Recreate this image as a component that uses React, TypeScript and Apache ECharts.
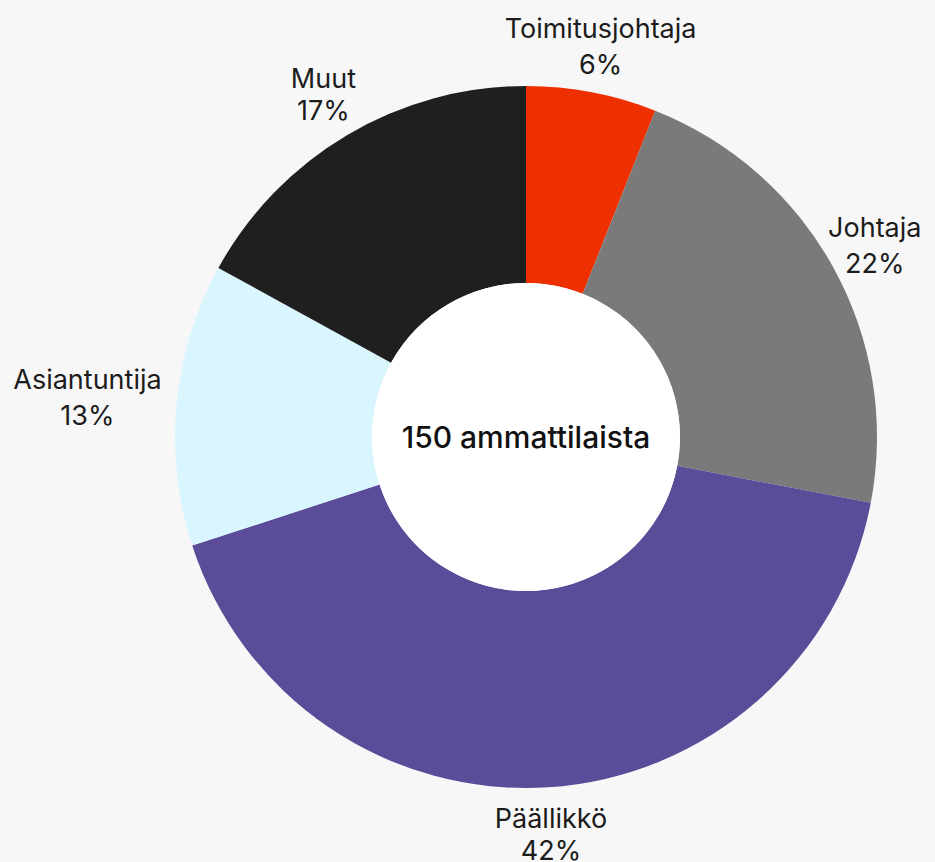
import React, { useEffect, useRef } from "react";
import * as echarts from "echarts";

const categories = ["Toimitusjohtaja", "Johtaja", "Päällikkö", "Asiantuntija", "Muut"];
const values = [6, 22, 42, 13, 17];
const colors = ["#ee3000", "#7a7a7a", "#5b4c9a", "#d9f6fe", "#1f1f1f"];
const centerText = "150 ammattilaista";

const FONT = "Inter, 'Noto Sans', sans-serif";

export default function App() {
  const ref = useRef<HTMLDivElement>(null);
  useEffect(() => {
    if (!ref.current) return;
    const chart = echarts.init(ref.current, null, { renderer: "svg" });
    const data = categories.map((name, i) => {
      const item: any = { name, value: values[i], itemStyle: { color: colors[i] } };
      if (name === "Asiantuntija") {
        item.labelLine = { show: false, length: 15, length2: 0 };
      }
      if (name === "Muut" || name === "Päällikkö") {
        item.label = { rich: { n: { lineHeight: 32 } } };
      }
      return item;
    });
    chart.setOption({
      animation: false,
      backgroundColor: "#f7f7f7",
      series: [
        {
          type: "pie",
          center: [526, 437],
          radius: [154, 351],
          startAngle: 90,
          clockwise: true,
          avoidLabelOverlap: false,
          silent: true,
          data,
          label: {
            show: true,
            position: "outside",
            distanceToLabelLine: 0,
            formatter: (p: any) => `{n|${p.name}}\n{n|${Math.round(p.percent)}%}`,
            rich: {
              n: {
                align: "center",
                fontFamily: FONT,
                fontSize: 27,
                lineHeight: 36,
                color: "#1c1c1c",
              },
            },
          },
          labelLine: { show: false, length: 47, length2: 0 },
          labelLayout: (params: any) =>
            params.dataIndex === 3 ? { dy: -5 } : { align: "center" },
        },
        {
          type: "pie",
          center: [526, 437],
          radius: [0, 154],
          silent: true,
          data: [{ name: centerText, value: 1, itemStyle: { color: "#ffffff" } }],
          label: {
            show: true,
            position: "center",
            formatter: centerText,
            fontFamily: FONT,
            fontSize: 30,
            fontWeight: 500,
            color: "#111111",
          },
          labelLine: { show: false },
        },
      ],
    });
    return () => chart.dispose();
  }, []);
  return (
    <div
      ref={ref}
      style={{ position: "absolute", left: 0, top: 0, width: 935, height: 862 }}
    />
  );
}
